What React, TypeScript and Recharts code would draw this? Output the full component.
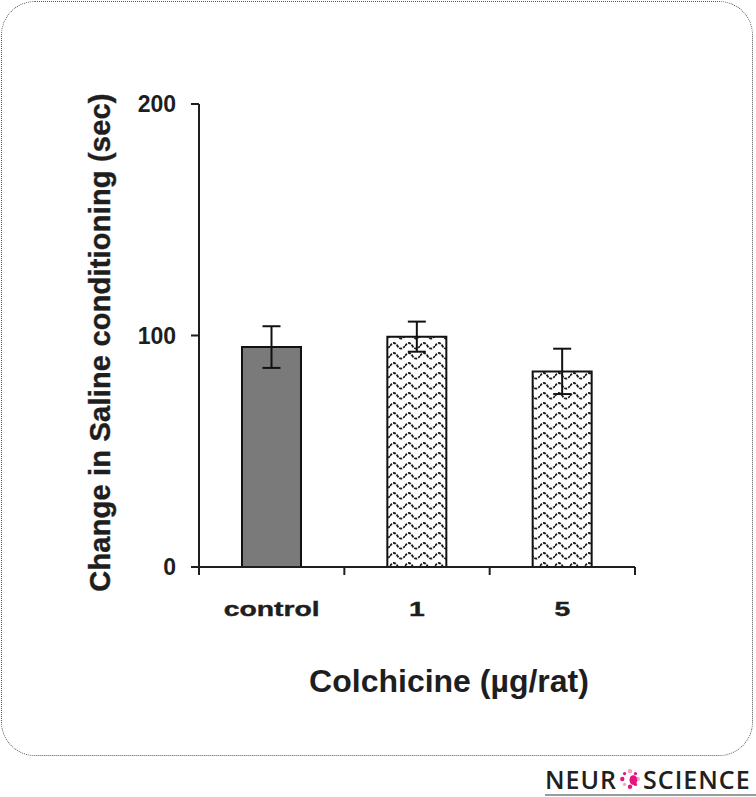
import React from "react";
import { BarChart, Bar, XAxis, YAxis, ErrorBar, Cell } from "recharts";

// values (seconds)
const doses = ["control", "1", "5"];
const changeSec = [95, 99.5, 84.5];
const semSec = [9, 6.5, 9.8];
const yTicks = [0, 100, 200];
const barFills = ["#7a7a7a", "url(#wave)", "url(#wave)"];

const data = doses.map((dose, i) => ({
  dose,
  value: changeSec[i],
  err: semSec[i],
}));

const FONT = "'Liberation Sans', Arial, sans-serif";
const INK = "#1e1e1e";

// category label plus tick marks on the band edges (as in the original figure)
const DoseTick = ({ x, y, payload, width, visibleTicksCount, index }: any) => {
  const half = width / visibleTicksCount / 2;
  const last = index === visibleTicksCount - 1;
  return (
    <g transform={`translate(${x},${y})`}>
      <line x1={-half} x2={-half} y1={0} y2={8} stroke={INK} strokeWidth={2} />
      {last && <line x1={half} x2={half} y1={0} y2={8} stroke={INK} strokeWidth={2} />}
      <text
        transform="scale(1.35,1)"
        x={0}
        y={0}
        dy={49}
        textAnchor="middle"
        fontSize={21}
        fontWeight="bold"
        fontFamily={FONT}
        fill={INK}
        stroke={INK}
        strokeWidth={0.4}
      >
        {payload.value}
      </text>
    </g>
  );
};

const YTitle = ({ viewBox }: any) => {
  const x = viewBox.x + 1;
  const y = viewBox.y + viewBox.height / 2 + 7;
  return (
    <text
      x={x}
      y={y}
      transform={`rotate(-90, ${x}, ${y})`}
      textAnchor="middle"
      dominantBaseline="central"
      fontSize={29}
      letterSpacing={0.2}
      fontWeight="bold"
      fontFamily={FONT}
      fill={INK}
      stroke={INK}
      strokeWidth={0.4}
    >
      Change in Saline conditioning (sec)
    </text>
  );
};

const XTitle = ({ viewBox }: any) => (
  <text
    x={viewBox.x + viewBox.width / 2 + 32}
    y={viewBox.y + 125}
    textAnchor="middle"
    fontSize={32}
    fontWeight="bold"
    fontFamily={FONT}
    fill={INK}
  >
    Colchicine (µg/rat)
  </text>
);

const Logo = () => (
  <div
    style={{
      position: "absolute",
      left: 545,
      top: 766,
      width: 211,
      display: "flex",
      alignItems: "center",
      fontFamily: "'Open Sans', sans-serif",
      fontWeight: 600,
      fontSize: 25,
      lineHeight: "26px",
      letterSpacing: 1,
      color: "#202020",
      borderBottom: "2px solid #9a9a9a",
      paddingBottom: 2,
      whiteSpace: "nowrap",
    }}
  >
    <span>NEUR</span>
    <svg width={22} height={22} viewBox="0 0 20 20" style={{ margin: "0 2px" }}>
      {[0, 1, 2, 3, 4, 5, 6, 7].map((k) => {
        const a = (k / 8) * Math.PI * 2;
        return (
          <circle
            key={k}
            cx={10 + 7 * Math.cos(a)}
            cy={10 + 7 * Math.sin(a)}
            r={k % 2 ? 1.5 : 2}
            fill={k % 3 === 0 ? "#f4a3c9" : "#e5157f"}
          />
        );
      })}
      <ellipse cx={13} cy={11} rx={3.5} ry={4.5} fill="#e5157f" />
    </svg>
    <span>SCIENCE</span>
  </div>
);

export default function App() {
  return (
    <div style={{ position: "absolute", left: 0, top: 0, width: 756, height: 797, background: "#fff" }}>
      <svg width={0} height={0} style={{ position: "absolute" }}>
        <defs>
          <pattern id="wave" patternUnits="userSpaceOnUse" width={15} height={10}>
            <rect width={15} height={10} fill="#fff" />
            <path
              d="M0,6 C2.5,2 5,2 7.5,6 S12.5,9 15,6"
              fill="none"
              stroke="#1a1a1a"
              strokeWidth={1.8}
              strokeDasharray="3 1.2"
            />
          </pattern>
        </defs>
      </svg>
      <div
        style={{
          position: "absolute",
          left: 1,
          top: 1,
          width: 750,
          height: 753,
          border: "1.5px dotted #555",
          borderRadius: 34,
        }}
      />
      <div style={{ position: "absolute", left: 0, top: 0 }}>
        <BarChart
          width={756}
          height={760}
          data={data}
          margin={{ top: 104, right: 121, bottom: 63, left: 99 }}
        >
          <XAxis
            dataKey="dose"
            height={130}
            axisLine={{ stroke: INK, strokeWidth: 2 }}
            tickLine={false}
            tickSize={0}
            tickMargin={0}
            tick={<DoseTick />}
            label={<XTitle />}
          />
          <YAxis
            domain={[0, 200]}
            ticks={yTicks}
            width={100}
            tickSize={8}
            tickMargin={15}
            stroke={INK}
            strokeWidth={2}
            tick={{ fontSize: 23, fontWeight: "bold", fontFamily: FONT, fill: INK }}
            label={<YTitle />}
          />
          <Bar dataKey="value" barSize={59} stroke="#111" strokeWidth={2} isAnimationActive={false}>
            {data.map((d, i) => (
              <Cell key={d.dose} fill={barFills[i]} />
            ))}
            <ErrorBar dataKey="err" width={9} stroke="#111" strokeWidth={2} />
          </Bar>
        </BarChart>
      </div>
      <Logo />
    </div>
  );
}
